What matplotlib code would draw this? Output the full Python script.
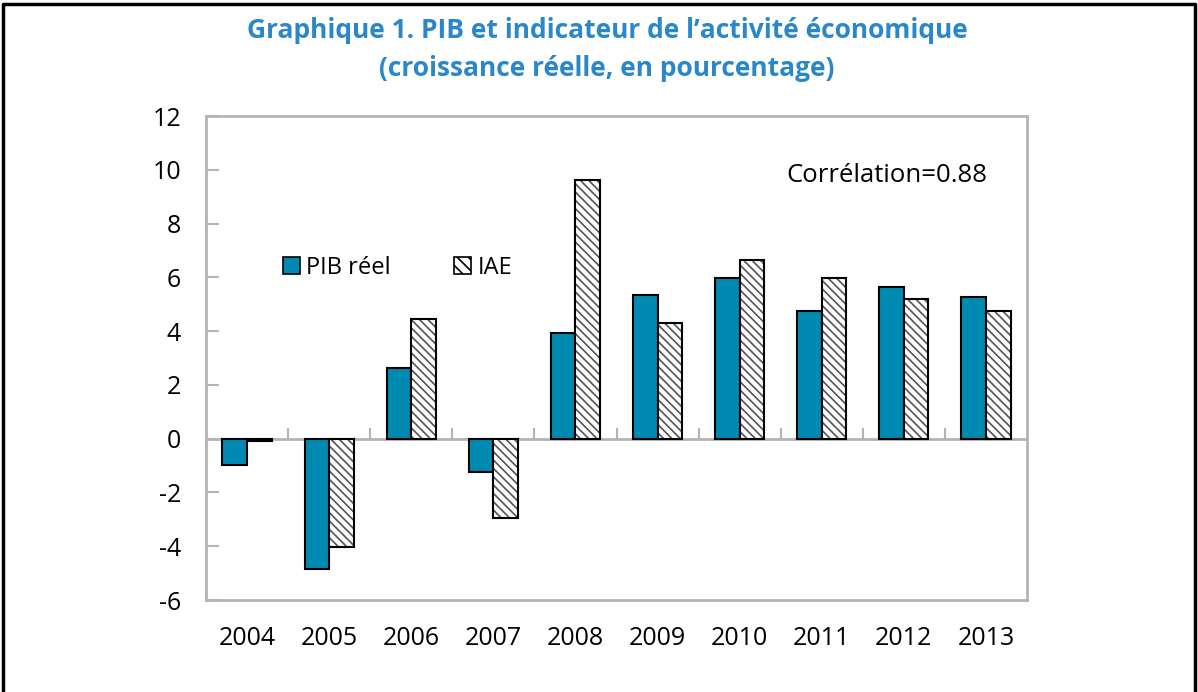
import numpy as np
import matplotlib.pyplot as plt
import matplotlib as mpl
from matplotlib.lines import Line2D
from matplotlib.patches import Patch

mpl.rcParams['font.family'] = ['Open Sans', 'DejaVu Sans']
mpl.rcParams['hatch.linewidth'] = 1.2

years = ['2004', '2005', '2006', '2007', '2008', '2009', '2010', '2011', '2012', '2013']
pib_reel = [-0.98, -4.86, 2.61, -1.23, 3.94, 5.35, 5.96, 4.75, 5.65, 5.28]
iae = [-0.1, -4.04, 4.46, -2.95, 9.62, 4.31, 6.63, 5.96, 5.21, 4.75]

teal = '#0089B1'
grey = '#b4b4b4'
title_blue = '#2a87c8'

fig = plt.figure(figsize=(11.98, 6.92), dpi=100)
ax = fig.add_axes([206 / 1198, 1 - 600 / 692, 821 / 1198, 484 / 692])

x = np.arange(len(years))
w = 0.3
ax.bar(x - w / 2, pib_reel, width=w, color=teal, edgecolor='black', linewidth=1.5, zorder=3)
# hatch drawn in grey, then a black outline on top
ax.bar(x + w / 2, iae, width=w, color='white', edgecolor='#555555', hatch='\\\\\\\\', linewidth=0, zorder=3)
ax.bar(x + w / 2, iae, width=w, fill=False, edgecolor='black', linewidth=1.5, zorder=4)

ax.set_xlim(-0.5, len(years) - 0.5)
ax.set_ylim(-6, 12)
ax.set_yticks(np.arange(-6, 13, 2))
ax.set_yticklabels([str(v) for v in range(-6, 13, 2)])

ax.axhline(0, color=grey, linewidth=2, zorder=2)
# category boundary ticks on the zero line
for b in np.arange(0.5, len(years) - 0.5, 1):
    ax.plot([b, b], [0, 0.35], color=grey, linewidth=1.5, zorder=2)

ax.set_xticks(x)
ax.set_xticklabels(years)
ax.tick_params(axis='x', length=0, pad=19, labelsize=18)
ax.tick_params(axis='y', direction='in', length=9, width=1.5, color=grey, pad=18, labelsize=18)

for s in ax.spines.values():
    s.set_color(grey)
    s.set_linewidth(2)

handles = [Patch(facecolor=teal, edgecolor='black', linewidth=1.2),
           Patch(facecolor='white', edgecolor='black', hatch='\\\\\\', linewidth=1.2)]
ax.legend(handles, ['PIB réel', 'IAE'], ncol=2, frameon=False, fontsize=17,
          loc='center left', bbox_to_anchor=(0.094, 0.686), borderaxespad=0, borderpad=0,
          handlelength=0.72, handleheight=0.75, handletextpad=0.25, columnspacing=2.7)

ax.text(0.952, 0.878, 'Corrélation=0.88', transform=ax.transAxes, ha='right', va='center', fontsize=18.5)

fig.text(607 / 1198, 1 - 30 / 692, 'Graphique 1. PIB et indicateur de l\u2019activité économique',
         ha='center', va='center', fontsize=19, fontweight='bold', color=title_blue)
fig.text(607 / 1198, 1 - 68 / 692, '(croissance réelle, en pourcentage)',
         ha='center', va='center', fontsize=19, fontweight='bold', color=title_blue)

# outer frame
fig.add_artist(Line2D([3 / 1198, 3 / 1198, 1195 / 1198, 1195 / 1198],
                      [0, 1 - 4 / 692, 1 - 4 / 692, 0], color='black', linewidth=2.5,
                      transform=fig.transFigure))

fig.savefig('out.png', dpi=100)
